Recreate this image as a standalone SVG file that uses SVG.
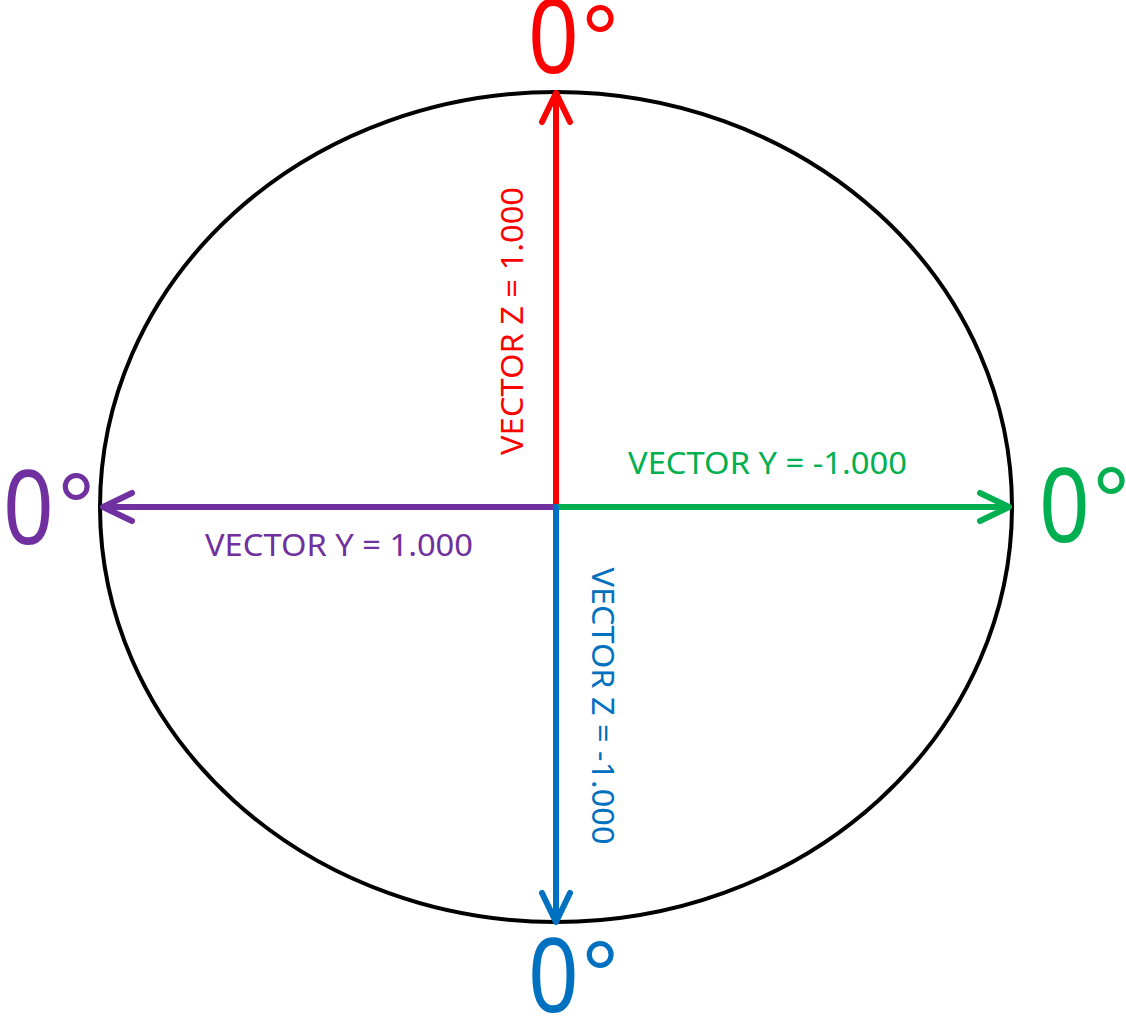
<svg xmlns="http://www.w3.org/2000/svg" width="1126" height="1016" viewBox="0 0 1126 1016">
<style>
.ax{fill:none;stroke-width:6;stroke-linecap:round;stroke-linejoin:round}
.lbl{font-family:"Noto Sans","Open Sans",sans-serif;font-size:31px}
.big{font-family:"Noto Sans","Open Sans",sans-serif;font-size:102px}
.deg{font-family:"Liberation Sans",Arial,sans-serif;font-size:96px}
</style>
<rect width="1126" height="1016" fill="#fff"/>
<g id="circle"><ellipse cx="556" cy="507" rx="456" ry="415" fill="none" stroke="#000" stroke-width="4"/></g>
<g id="connectors">
<path class="ax" stroke="#FF0000" d="M556 507V95M542 122L556 93L570 122"/>
<path class="ax" stroke="#7030A0" d="M556 507H104M132 493L103 507L132 521"/>
<path class="ax" stroke="#00B050" d="M556 507H1008M980 493L1009 507L980 521"/>
<path class="ax" stroke="#0070C0" d="M556 507V920M542 893L556 922L570 893"/>
</g>
<g id="label-red" fill="#FF0000">
<text class="big" transform="translate(528 73) scale(0.87 1)">0</text>
<text class="deg" x="581" y="73">°</text>
<text class="lbl" transform="translate(523 321) rotate(-90)" text-anchor="middle" textLength="268" lengthAdjust="spacingAndGlyphs">VECTOR Z = 1.000</text>
</g>
<g id="label-purple" fill="#7030A0">
<text class="big" transform="translate(3 544) scale(0.87 1)">0</text>
<text class="deg" x="57" y="541">°</text>
<text class="lbl" x="205" y="556" textLength="268" lengthAdjust="spacingAndGlyphs">VECTOR Y = 1.000</text>
</g>
<g id="label-green" fill="#00B050">
<text class="big" transform="translate(1039 542) scale(0.87 1)">0</text>
<text class="deg" x="1092" y="535">°</text>
<text class="lbl" x="628" y="474" textLength="279" lengthAdjust="spacingAndGlyphs">VECTOR Y = -1.000</text>
</g>
<g id="label-blue" fill="#0070C0">
<text class="big" transform="translate(528 1012) scale(0.87 1)">0</text>
<text class="deg" x="581" y="1009">°</text>
<text class="lbl" transform="translate(592 706) rotate(90)" text-anchor="middle" textLength="277" lengthAdjust="spacingAndGlyphs">VECTOR Z = -1.000</text>
</g>
</svg>
